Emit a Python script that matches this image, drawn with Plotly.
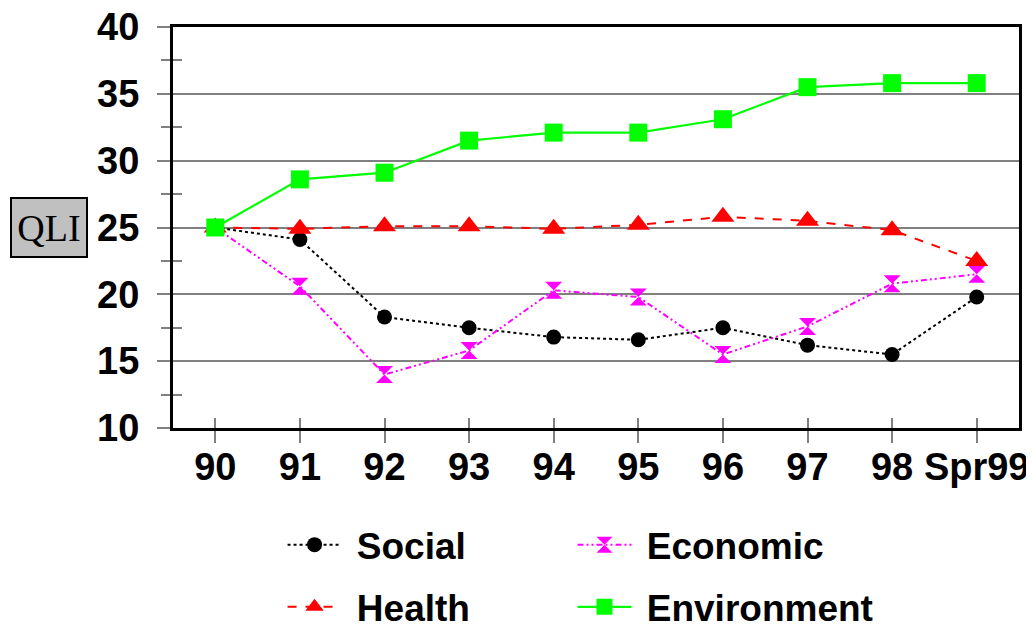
import plotly.graph_objects as go

years = ["90", "91", "92", "93", "94", "95", "96", "97", "98", "Spr99"]
social = [25.0, 24.1, 18.3, 17.5, 16.8, 16.6, 17.5, 16.2, 15.5, 19.8]
economic = [25.0, 20.6, 14.0, 15.8, 20.3, 19.8, 15.5, 17.6, 20.8, 21.5]
health = [25.0, 24.9, 25.1, 25.1, 24.9, 25.2, 25.8, 25.5, 24.8, 22.5]
environment = [25.0, 28.6, 29.1, 31.5, 32.1, 32.1, 33.1, 35.5, 35.8, 35.8]
y_ticks = [10, 15, 20, 25, 30, 35, 40]
y_minor = [12.5, 17.5, 22.5, 27.5, 32.5, 37.5]

FONT = "Liberation Sans"
PAD = "\u00a0"  # small leading gap between legend symbol and text

fig = go.Figure()
fig.add_trace(go.Scatter(
    x=years, y=social, name=PAD + "Social", mode="lines+markers",
    line=dict(color="black", width=2, dash="dot"),
    marker=dict(symbol="circle", size=15, color="black"), legend="legend"))
fig.add_trace(go.Scatter(
    x=years, y=economic, name=PAD + "Economic", mode="lines+markers",
    line=dict(color="#ff00ff", width=2, dash="6px,3px,2px,3px,2px,3px"),
    marker=dict(symbol="hourglass", size=17, color="#ff00ff"), legend="legend2"))
fig.add_trace(go.Scatter(
    x=years, y=health, name=PAD + "Health", mode="lines+markers",
    line=dict(color="#ff0000", width=2, dash="dash"),
    marker=dict(symbol="triangle-up", size=20, color="#ff0000"), legend="legend3"))
fig.add_trace(go.Scatter(
    x=years, y=environment, name=PAD + "Environment", mode="lines+markers",
    line=dict(color="#00ff00", width=2.2),
    marker=dict(symbol="square", size=18, color="#00ff00"), legend="legend4"))
# dummy trace to register the overlay axes used for inside tick marks
fig.add_trace(go.Scatter(x=years, y=[None] * len(years), xaxis="x2", yaxis="y2",
                         showlegend=False, hoverinfo="skip", mode="lines"))

tickfont = dict(family=FONT, size=38, color="black", weight="bold")
legfont = dict(family=FONT, size=37, color="black", weight="bold")


def leg(x, y):
    return dict(orientation="h", x=x, xanchor="left", y=y, yanchor="middle",
                font=legfont, bgcolor="rgba(0,0,0,0)", itemwidth=54)


# the page body adds an 8px offset, so the figure is 8px smaller on each axis
fig.update_layout(
    width=1026, height=619,
    margin=dict(l=165, r=15, t=19, b=199, autoexpand=False),
    paper_bgcolor="white", plot_bgcolor="white",
    xaxis=dict(type="category", range=[-0.5, 9.5], showgrid=False,
               showline=True, linecolor="black", linewidth=3, mirror=True,
               ticks="outside", ticklen=12, tickwidth=2, tickcolor="#808080",
               tickfont=tickfont, tickangle=0, automargin=False,
               ticklabelstandoff=-9, ticklabeloverflow="allow"),
    yaxis=dict(range=[10, 40], tickmode="array", tickvals=y_ticks,
               showgrid=True, gridcolor="#808080", gridwidth=2,
               showline=True, linecolor="black", linewidth=3, mirror=True,
               ticks="outside", ticklen=13, tickwidth=2, tickcolor="#808080",
               tickfont=tickfont, zeroline=False, ticklabelstandoff=10,
               automargin=False, ticklabeloverflow="allow",
               minor=dict(tickmode="array", tickvals=y_minor, ticks="outside",
                          ticklen=9, tickwidth=2, tickcolor="#808080", showgrid=False)),
    xaxis2=dict(type="category", range=[-0.5, 9.5], overlaying="x", anchor="y2",
                showgrid=False, showline=False, showticklabels=False,
                ticks="inside", ticklen=10, tickwidth=2, tickcolor="#808080"),
    yaxis2=dict(range=[10, 40], overlaying="y", anchor="x2", tickmode="array",
                tickvals=y_minor, showgrid=False, showline=False, showticklabels=False,
                ticks="inside", ticklen=9, tickwidth=2, tickcolor="#808080", zeroline=False),
    legend=leg(0.1295, -0.292),
    legend2=leg(0.4722, -0.292),
    legend3=leg(0.1295, -0.447),
    legend4=leg(0.4722, -0.447),
    showlegend=True,
)

fig.add_annotation(
    text="QLI", xref="paper", yref="y", x=-0.1466, y=25, xanchor="center", yanchor="middle",
    showarrow=False, font=dict(family="Liberation Serif", size=38, color="black"),
    bgcolor="#c0c0c0", bordercolor="black", borderwidth=2, borderpad=0,
    width=74, height=57)

fig.write_html("out.html")
